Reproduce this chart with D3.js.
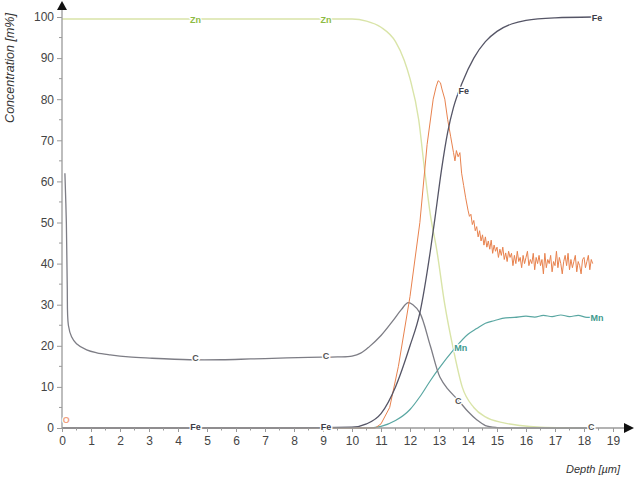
<!DOCTYPE html>
<html><head><meta charset="utf-8">
<script src="https://cdn.jsdelivr.net/npm/d3@7"></script>
<style>
body{margin:0;background:#fff;}
svg{display:block;font-family:Arial,"Liberation Sans",sans-serif;}
</style></head>
<body><svg id="c" width="636" height="480"></svg>
<script>
// ---- data (depth µm, concentration m%) ----
const xTicks = d3.range(0, 20, 1);
const yTicks = d3.range(0, 101, 10);

const znData = [[0,99.5],[2,99.5],[4,99.5],[6,99.5],[8,99.5],[10,99.5],[10.5,99],[11.0,97.5],[11.5,94],[11.8,89.5],[12.0,85],[12.3,75],[12.5,63],[12.7,52],[12.93,43],[13.2,30],[13.5,19],[13.8,10],[14.2,5],[14.6,2.7],[15.2,1.3],[15.8,0.6],[16.5,0.2],[17.5,0.05],[18.3,0]];

const feData = [[0,0],[4,0],[8,0],[10.0,0.2],[10.5,1],[11.0,3.5],[11.5,10],[12.0,20],[12.34,28],[12.7,43],[12.86,51],[13.09,63],[13.3,72],[13.5,78],[13.8,84],[14.2,90],[14.6,94],[15.0,96.5],[15.5,98.3],[16.0,99.2],[17.0,99.8],[18.3,100]];

const cData = [[0.1,62],[0.15,50],[0.18,35],[0.22,25],[0.33,22.2],[0.5,20.5],[0.85,19],[1.2,18.3],[1.66,17.8],[2.3,17.3],[3.03,17],[4.4,16.6],[5.5,16.6],[6.5,16.8],[7.5,17],[8.5,17.2],[9.5,17.3],[10.0,17.5],[10.3,18.2],[10.6,19.8],[11.0,22.5],[11.4,26],[11.7,28.8],[11.93,30.5],[12.1,30],[12.34,28],[12.7,20],[13.03,12.4],[13.3,9.5],[13.66,6.8],[14.0,4],[14.3,2],[14.6,0.6],[15.0,0.1],[16,0],[18.3,0]];

const mnData = [[0,0],[5,0],[10.5,0],[11.0,0.4],[11.5,1.8],[12.0,4.5],[12.34,7.6],[12.7,11.5],[13.0,14.5],[13.5,19],[14.0,22.8],[14.3,24.2],[14.6,25.5],[14.9,26.1],[15.3,26.8],[15.6,26.9],[16.0,27.2],[16.3,27.0],[16.6,27.4],[16.9,27.1],[17.2,27.5],[17.5,27.1],[17.8,27.4],[18.1,26.9],[18.3,27.0]];

const oData = [[0,0],[5,0],[10.8,0],[11.0,1],[11.3,5],[11.6,15],[12.0,32],[12.34,50],[12.59,69],[12.8,80],[12.9,83],[12.97,84.5],[13.05,84],[13.1,82.5],[13.2,80],[13.3,75],[13.4,71],[13.5,67],[13.55,65],[13.6,67.5],[13.66,66],[13.72,67],[13.78,62],[13.85,59],[13.92,56],[14.0,53],[14.05,51.5],[14.1,52],[14.15,49.5],[14.2,50.5],[14.25,48],[14.3,49],[14.35,46.5],[14.4,48],[14.45,45.5],[14.5,47],[14.55,44.5],[14.6,46.5],[14.65,44],[14.7,45.5],[14.75,43.5],[14.8,45.7],[14.85,42.5],[14.9,44.5],[14.95,43],[15.0,44],[15.05,41.5],[15.1,43.5],[15.15,42],[15.2,44],[15.25,41],[15.3,42.6],[15.35,40.5],[15.4,43],[15.45,41.5],[15.5,42.5],[15.55,39.5],[15.6,42],[15.65,40],[15.7,43],[15.75,40.5],[15.8,41.5],[15.85,39],[15.9,42],[15.95,40],[16.0,41.5],[16.05,43],[16.1,39.5],[16.15,41],[16.2,40],[16.25,42.5],[16.3,38.5],[16.35,41.5],[16.4,40],[16.45,42],[16.5,39.5],[16.55,41],[16.6,37.5],[16.65,42.5],[16.7,39],[16.75,41],[16.8,40],[16.85,42],[16.9,38],[16.95,40.5],[17.0,39.5],[17.05,43],[17.1,39],[17.15,41.5],[17.2,40],[17.25,37.5],[17.3,40.5],[17.35,42],[17.4,39.5],[17.45,42.5],[17.5,38.5],[17.55,41],[17.6,39],[17.65,40.5],[17.7,42],[17.75,38],[17.8,40.5],[17.85,39.5],[17.9,37.5],[17.95,41],[18.0,41.5],[18.05,39],[18.1,40.5],[18.15,42],[18.2,38.5],[18.25,41],[18.3,40]];

const labels = [
  {t:"Zn", x:4.6, y:99.5, c:"#8dbb45"},
  {t:"Zn", x:9.1, y:99.5, c:"#8dbb45"},
  {t:"Fe", x:18.45, y:100, c:"#3c3c48"},
  {t:"Fe", x:13.85, y:82, c:"#3c3c48"},
  {t:"C", x:4.6, y:17.2, c:"#555"},
  {t:"C", x:9.1, y:17.6, c:"#555"},
  {t:"C", x:13.66, y:6.8, c:"#555"},
  {t:"C", x:18.25, y:0.3, c:"#555"},
  {t:"Fe", x:4.6, y:0.3, c:"#3c3c48"},
  {t:"Fe", x:9.1, y:0.3, c:"#3c3c48"},
  {t:"Mn", x:13.75, y:19.5, c:"#3f9a8e"},
  {t:"Mn", x:18.45, y:27, c:"#3f9a8e"},
  {t:"O", x:0.15, y:2, c:"#f0a080"}
];

// ---- layout ----
const svg = d3.select("#c");
const x = d3.scaleLinear().domain([0, 19]).range([62, 613]);
const y = d3.scaleLinear().domain([0, 100]).range([428, 17]);

const axisColor = "#9a9a9a";

// curves
const line = d3.line().x(d => x(d[0])).y(d => y(d[1])).curve(d3.curveMonotoneX);
const lineC = d3.line().x(d => x(d[0])).y(d => y(d[1])).curve(d3.curveLinear);
const series = [
  {d: znData, c:"#d9e4a8", w:1.4, l:line},
  {d: mnData, c:"#5aa7a2", w:1.2, l:line},
  {d: cData, c:"#7d7d85", w:1.3, l:d3.line().x(d => x(d[0])).y(d => y(d[1])).curve(d3.curveCatmullRom)},
  {d: oData, c:"#e8824e", w:1.0, l:lineC},
  {d: feData, c:"#555566", w:1.3, l:line}
];
series.forEach(s => {
  svg.append("path").attr("d", s.l(s.d)).attr("fill","none")
    .attr("stroke", s.c).attr("stroke-width", s.w).attr("stroke-linejoin","round");
});

// axes
const gx = svg.append("g").attr("transform", `translate(0,${y(0)})`)
  .call(d3.axisBottom(x).tickValues(xTicks).tickSize(4).tickPadding(4).tickFormat(d3.format("d")));
const gy = svg.append("g").attr("transform", `translate(${x(0)},0)`)
  .call(d3.axisLeft(y).tickValues(yTicks).tickSize(5).tickPadding(3).tickFormat(d3.format("d")));
[gx, gy].forEach(g => {
  g.select(".domain").remove();
  g.selectAll(".tick line").attr("stroke", axisColor);
  g.selectAll(".tick text").attr("fill", "#444").attr("font-size", 12)
    .attr("font-family", "Arial, 'Liberation Sans', sans-serif");
});
// minor ticks
svg.append("g").selectAll("line").data(d3.range(0.5, 19, 1)).join("line")
  .attr("x1", d => x(d)).attr("x2", d => x(d)).attr("y1", y(0)).attr("y2", y(0) + 2.5)
  .attr("stroke", axisColor);
svg.append("g").selectAll("line").data(d3.range(5, 100, 10)).join("line")
  .attr("x1", x(0) - 3).attr("x2", x(0)).attr("y1", d => y(d)).attr("y2", d => y(d))
  .attr("stroke", axisColor);

// axis lines with arrows
svg.append("line").attr("x1", x(0)).attr("x2", 626).attr("y1", y(0)).attr("y2", y(0))
  .attr("stroke", axisColor).attr("stroke-width", 1.3);
svg.append("line").attr("x1", x(0)).attr("x2", x(0)).attr("y1", y(0)).attr("y2", 10)
  .attr("stroke", axisColor).attr("stroke-width", 1.3);
svg.append("path").attr("d", `M${x(0)-5},10 L${x(0)+5},10 L${x(0)},1 Z`).attr("fill", "#111");
svg.append("path").attr("d", `M624,${y(0)-5} L624,${y(0)+5} L634,${y(0)} Z`).attr("fill", "#111");

// axis titles
svg.append("text").attr("transform", `translate(14,68) rotate(-90)`)
  .attr("text-anchor", "middle").attr("font-size", 12.5).attr("font-style", "italic")
  .attr("fill", "#333").text("Concentration [m%]");
svg.append("text").attr("x", 620).attr("y", 473).attr("text-anchor", "end")
  .attr("font-size", 11).attr("font-style", "italic").attr("fill", "#333").text("Depth [µm]");

// curve labels
svg.append("g").selectAll("text").data(labels).join("text")
  .attr("x", d => x(d.x)).attr("y", d => y(d.y) + 3.5)
  .attr("text-anchor", "middle").attr("font-size", 9).attr("font-weight", "bold")
  .attr("fill", d => d.c).attr("stroke", "#fff").attr("stroke-width", 2.5)
  .attr("paint-order", "stroke").text(d => d.t);
</script></body></html>
